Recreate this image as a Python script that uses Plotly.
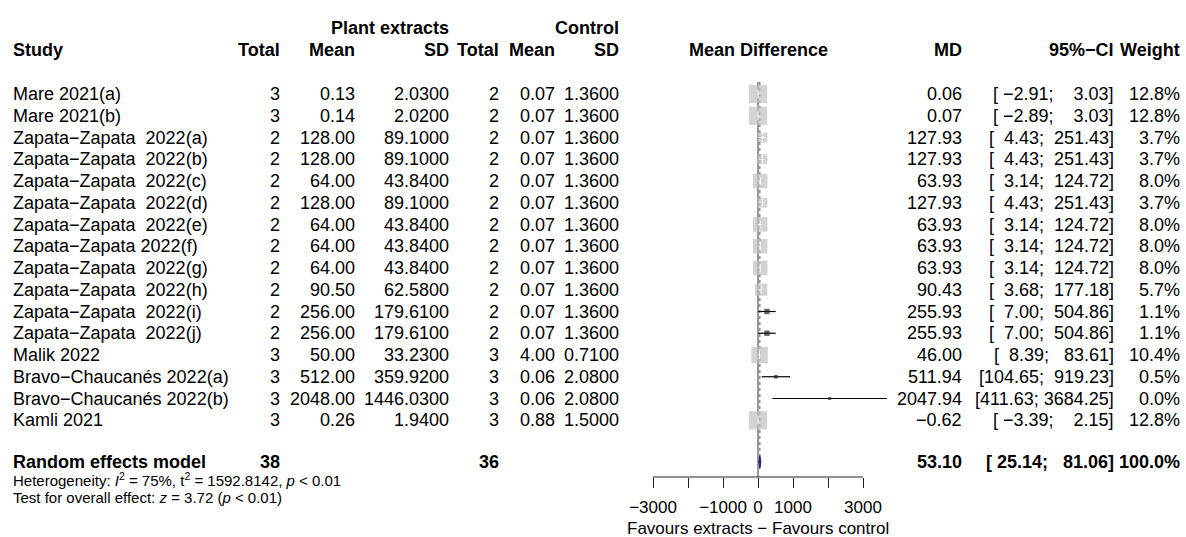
import plotly.graph_objects as go
import math

# ---------------- data ----------------
studies = [
    "Mare 2021(a)", "Mare 2021(b)",
    "Zapata\u2212Zapata\u00a0 2022(a)", "Zapata\u2212Zapata\u00a0 2022(b)",
    "Zapata\u2212Zapata\u00a0 2022(c)", "Zapata\u2212Zapata\u00a0 2022(d)",
    "Zapata\u2212Zapata\u00a0 2022(e)", "Zapata\u2212Zapata 2022(f)",
    "Zapata\u2212Zapata\u00a0 2022(g)", "Zapata\u2212Zapata\u00a0 2022(h)",
    "Zapata\u2212Zapata\u00a0 2022(i)", "Zapata\u2212Zapata\u00a0 2022(j)",
    "Malik 2022", "Bravo\u2212Chaucan\u00e9s 2022(a)", "Bravo\u2212Chaucan\u00e9s 2022(b)",
    "Kamli 2021",
]
n_e = [3, 3, 2, 2, 2, 2, 2, 2, 2, 2, 2, 2, 3, 3, 3, 3]
mean_e = [0.13, 0.14, 128.00, 128.00, 64.00, 128.00, 64.00, 64.00, 64.00, 90.50,
          256.00, 256.00, 50.00, 512.00, 2048.00, 0.26]
sd_e = [2.0300, 2.0200, 89.1000, 89.1000, 43.8400, 89.1000, 43.8400, 43.8400, 43.8400,
        62.5800, 179.6100, 179.6100, 33.2300, 359.9200, 1446.0300, 1.9400]
n_c = [2, 2, 2, 2, 2, 2, 2, 2, 2, 2, 2, 2, 3, 3, 3, 3]
mean_c = [0.07, 0.07, 0.07, 0.07, 0.07, 0.07, 0.07, 0.07, 0.07, 0.07, 0.07, 0.07,
          4.00, 0.06, 0.06, 0.88]
sd_c = [1.3600, 1.3600, 1.3600, 1.3600, 1.3600, 1.3600, 1.3600, 1.3600, 1.3600, 1.3600,
        1.3600, 1.3600, 0.7100, 2.0800, 2.0800, 1.5000]
md = [0.06, 0.07, 127.93, 127.93, 63.93, 127.93, 63.93, 63.93, 63.93, 90.43,
      255.93, 255.93, 46.00, 511.94, 2047.94, -0.62]
ci_lo = [-2.91, -2.89, 4.43, 4.43, 3.14, 4.43, 3.14, 3.14, 3.14, 3.68,
         7.00, 7.00, 8.39, 104.65, 411.63, -3.39]
ci_hi = [3.03, 3.03, 251.43, 251.43, 124.72, 251.43, 124.72, 124.72, 124.72, 177.18,
         504.86, 504.86, 83.61, 919.23, 3684.25, 2.15]
weight = [12.8, 12.8, 3.7, 3.7, 8.0, 3.7, 8.0, 8.0, 8.0, 5.7, 1.1, 1.1, 10.4, 0.5, 0.0, 12.8]

pooled_label = "Random effects model"
pooled_n_e, pooled_n_c = 38, 36
pooled_md, pooled_lo, pooled_hi, pooled_w = 53.10, 25.14, 81.06, 100.0
null_effect = 0

tick_vals = [-3000, -2000, -1000, 0, 1000, 2000, 3000]
tick_labels = ["\u22123000", None, "\u22121000", "0", "1000", None, "3000"]

het_text = ("Heterogeneity: <i>I</i><sup>2</sup> = 75%, t<sup>2</sup> = 1592.8142, "
            "<i>p</i> &lt; 0.01")
test_text = "Test for overall effect: <i>z</i> = 3.72 (<i>p</i> &lt; 0.01)"
xlab = "Favours extracts \u2212 Favours control"

# ---------------- layout constants ----------------
W, H = 1186, 537
FONT = "Liberation Sans, Arial, Helvetica, sans-serif"
FS = 18
FS_SMALL = 15
FS_AXIS = 17
ROW0_PX = 94.0
PITCH = 21.75
AXIS_PX = 477.0
AX_L, AX_R = 653.0, 863.0          # pixel positions of first and last tick
scale = (AX_R - AX_L) / (tick_vals[-1] - tick_vals[0])
x_range = [tick_vals[0] - AX_L / scale, tick_vals[-1] + (W - AX_R) / scale]


def px2y(p):
    return -(p - ROW0_PX) / PITCH


y_range = [px2y(H), px2y(0)]
y_axis = px2y(AXIS_PX)
NB = "\u00a0"


def fmt(v, d):
    return f"{v:.{d}f}".replace("-", "\u2212")


def ci_str(lo, hi):
    return "[" + fmt(lo, 2).rjust(6, NB) + ";" + NB + fmt(hi, 2).rjust(7, NB) + "]"


annotations = []


def txt(px, y, s, anchor="right", bold=False, size=FS):
    if bold:
        s = f"<b>{s}</b>"
    annotations.append(dict(
        x=px / W, xref="paper", y=y, yref="y", text=s, showarrow=False,
        xanchor=anchor, yanchor="middle", borderpad=0, borderwidth=0,
        font=dict(family=FONT, size=size, color="black"),
    ))


# column right edges (px)
C_STUDY = 13
C_NE, C_ME, C_SE = 280, 355, 449
C_NC, C_MC, C_SC = 499, 555, 619
C_MD, C_CI, C_W = 962, 1114, 1180
C_FOREST = (AX_L + AX_R) / 2

# headers
y_h1, y_h2 = px2y(28), px2y(50)
txt(C_SE, y_h1, "Plant extracts", bold=True)
txt(C_SC, y_h1, "Control", bold=True)
txt(C_STUDY, y_h2, "Study", anchor="left", bold=True)
txt(C_NE, y_h2, "Total", bold=True)
txt(C_ME, y_h2, "Mean", bold=True)
txt(C_SE, y_h2, "SD", bold=True)
txt(C_NC, y_h2, "Total", bold=True)
txt(C_MC, y_h2, "Mean", bold=True)
txt(C_SC, y_h2, "SD", bold=True)
txt(C_FOREST, y_h2, "Mean Difference", anchor="center", bold=True)
txt(C_MD, y_h2, "MD", bold=True)
txt(C_CI, y_h2, "95%\u2212CI", bold=True)
txt(C_W, y_h2, "Weight", bold=True)

rows = [-i for i in range(len(studies))]
for i, name in enumerate(studies):
    y = rows[i]
    txt(C_STUDY, y, name, anchor="left")
    txt(C_NE, y, str(n_e[i]))
    txt(C_ME, y, fmt(mean_e[i], 2))
    txt(C_SE, y, fmt(sd_e[i], 4))
    txt(C_NC, y, str(n_c[i]))
    txt(C_MC, y, fmt(mean_c[i], 2))
    txt(C_SC, y, fmt(sd_c[i], 4))
    txt(C_MD, y, fmt(md[i], 2))
    txt(C_CI, y, ci_str(ci_lo[i], ci_hi[i]))
    txt(C_W, y, f"{weight[i]:.1f}%")

y_pool = px2y(462)
txt(C_STUDY, y_pool, pooled_label, anchor="left", bold=True)
txt(C_NE, y_pool, str(pooled_n_e), bold=True)
txt(C_NC, y_pool, str(pooled_n_c), bold=True)
txt(C_MD, y_pool, fmt(pooled_md, 2), bold=True)
txt(C_CI, y_pool, ci_str(pooled_lo, pooled_hi), bold=True)
txt(C_W, y_pool, f"{pooled_w:.1f}%", bold=True)
txt(C_STUDY, px2y(479), het_text, anchor="left", size=FS_SMALL)
txt(C_STUDY, px2y(497), test_text, anchor="left", size=FS_SMALL)
txt(C_FOREST, px2y(528), xlab, anchor="center", size=FS_AXIS)

# ---------------- forest marks ----------------
fig = go.Figure()
sizes = [max(3.0, 5.11 * math.sqrt(w)) for w in weight]
y_line_top = 0.55

# reference line at null effect
fig.add_trace(go.Scatter(x=[null_effect, null_effect], y=[y_line_top, y_axis], mode="lines",
                         line=dict(color="#333333", width=1), hoverinfo="skip"))
# pooled estimate line
fig.add_trace(go.Scatter(x=[pooled_md, pooled_md], y=[y_line_top, y_pool + 0.3], mode="lines",
                         line=dict(color="#555555", width=1, dash="3px,3px"), hoverinfo="skip"))

# CI lines
cx, cy = [], []
for i in range(len(studies)):
    cx += [ci_lo[i], ci_hi[i], None]
    cy += [rows[i], rows[i], None]
fig.add_trace(go.Scatter(x=cx, y=cy, mode="lines", line=dict(color="black", width=1.2),
                         hoverinfo="skip"))

# squares (area proportional to weight)
sq_colors = ["#C0C0C0" if s >= 7 else "#222222" for s in sizes]
fig.add_trace(go.Scatter(x=md, y=rows, mode="markers",
                         marker=dict(symbol="square", size=sizes, color=sq_colors,
                                     line=dict(width=0)),
                         hoverinfo="skip"))

# white CI segments inside big squares
wx, wy = [], []
for i in range(len(studies)):
    if sizes[i] >= 7:
        hw = (sizes[i] / 2 - 1) / scale
        a = max(ci_lo[i], md[i] - hw)
        b = min(ci_hi[i], md[i] + hw)
        if b - a < 1.5 / scale:
            a, b = md[i] - 0.75 / scale, md[i] + 0.75 / scale
        wx += [a, b, None]
        wy += [rows[i], rows[i], None]
fig.add_trace(go.Scatter(x=wx, y=wy, mode="lines", line=dict(color="white", width=1),
                         hoverinfo="skip"))
fig.add_trace(go.Scatter(x=[m for m, s in zip(md, sizes) if s >= 7],
                         y=[r for r, s in zip(rows, sizes) if s >= 7], mode="markers",
                         marker=dict(symbol="line-ns", size=6, line=dict(color="white", width=1)),
                         hoverinfo="skip"))

# diamond
fig.add_trace(go.Scatter(
    x=[pooled_lo, pooled_md, pooled_hi, pooled_md, pooled_lo],
    y=[y_pool, y_pool + 0.3, y_pool, y_pool - 0.3, y_pool],
    mode="lines", fill="toself", fillcolor="#1c1c80",
    line=dict(color="#1c1c80", width=1), hoverinfo="skip"))

# axis baseline (from first to last tick)
fig.add_trace(go.Scatter(x=[tick_vals[0], tick_vals[-1]], y=[y_axis, y_axis], mode="lines",
                         line=dict(color="#222222", width=1.2), hoverinfo="skip"))

major_vals = [v for v, t in zip(tick_vals, tick_labels) if t is not None]
major_text = [t for t in tick_labels if t is not None]
minor_vals = [v for v, t in zip(tick_vals, tick_labels) if t is None]

fig.update_layout(
    width=W, height=H,
    margin=dict(l=0, r=0, t=0, b=0, pad=0),
    paper_bgcolor="white", plot_bgcolor="white",
    showlegend=False,
    annotations=annotations,
    xaxis=dict(range=x_range, domain=[0, 1], showgrid=False, zeroline=False, showline=False,
               anchor="free", position=(H - AXIS_PX) / H,
               tickmode="array", tickvals=major_vals, ticktext=major_text,
               ticks="outside", ticklen=10, tickwidth=1.2, tickcolor="#222222",
               ticklabelstandoff=5,
               minor=dict(tickmode="array", tickvals=minor_vals, ticks="outside",
                          ticklen=10, tickwidth=1.2, tickcolor="#222222", showgrid=False),
               tickfont=dict(family=FONT, size=FS_AXIS, color="black"),
               automargin=False, fixedrange=True),
    yaxis=dict(range=y_range, domain=[0, 1], visible=False, fixedrange=True),
)

fig.write_html("out.html", config={"displayModeBar": False},
               post_script="document.body.style.margin='0';document.body.style.overflow='hidden';")
